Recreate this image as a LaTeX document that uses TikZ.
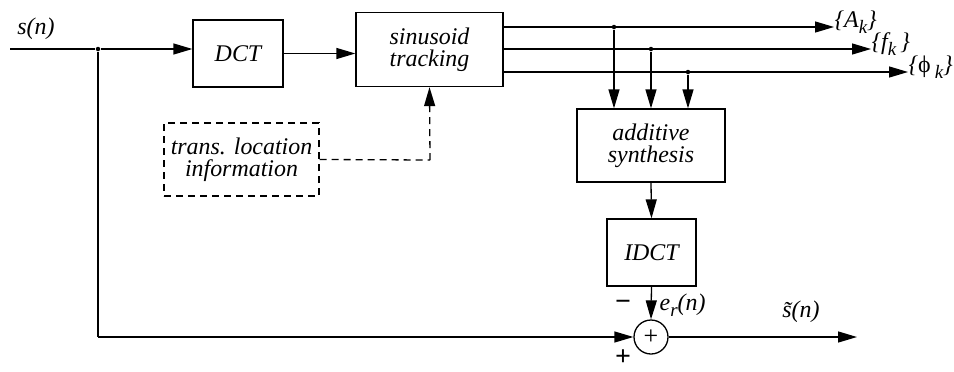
\documentclass[tikz,border=0pt]{standalone}
\usepackage{fontspec}
\setmainfont{Liberation Serif}
\usetikzlibrary{arrows.meta}
\newcommand{\sub}[1]{\raisebox{-0.5ex}{\fontsize{19}{19}\selectfont #1}}
\begin{document}
\begin{tikzpicture}[x=1bp,y=-1bp,
  font=\fontsize{24}{25}\selectfont\itshape,
  line width=1.3bp,
  tip/.style={-{Triangle[length=19bp,width=11bp]}},
  blockbox/.style={draw,rectangle,inner sep=0pt,align=center},
  dotpt/.style={circle,fill,inner sep=0pt,minimum size=4.5bp}]
\useasboundingbox (0,0) rectangle (954,371);

% blocks
\node[blockbox,minimum width=90bp,minimum height=67bp] (dct) at (238,53.5) {DCT};
\node[blockbox,minimum width=147bp,minimum height=74bp] (trk) at (429.5,49.5) {sinusoid\\[-3bp]tracking};
\node[blockbox,minimum width=148bp,minimum height=73bp] (syn) at (651,145.5) {additive\\[-3bp]synthesis};
\node[blockbox,minimum width=89bp,minimum height=67bp] (idct) at (651.5,252.5) {IDCT};
\node[blockbox,dashed,dash pattern=on 7bp off 5bp,minimum width=155bp,minimum height=73bp] (loc) at (241.5,159.5) {trans. location\\[-3bp]information};
\node[draw,circle,minimum size=34bp,inner sep=0pt] (sum) at (651,337) {};
\node[font=\fontsize{26}{26}\selectfont\upshape] at (651,337.5) {+};

% input
\coordinate (in) at (10,49);
\node[dotpt] (split) at (98,49) {};
\node[anchor=south] (sn) at (36,44) {s(n)};
\draw (in) -- (split);
\draw[tip] (split) -- (split -| dct.west);
\draw[tip] (dct.east) -- (dct.east -| trk.west);

% tracker outputs
\coordinate (oa) at (503,27);
\coordinate (of) at (503,49);
\coordinate (op) at (503,72);
\coordinate (ea) at (834,27);
\coordinate (ef) at (871,49);
\coordinate (ep) at (908,72);
\draw[tip] (oa) -- (ea);
\draw[tip] (of) -- (ef);
\draw[tip] (op) -- (ep);
\node[anchor=west,inner sep=0pt] (la) at (834,22) {\{A\sub{k}\}};
\node[anchor=west,inner sep=0pt] (lf) at (871,44) {\{f\sub{k}\,\}};
\node[anchor=west,inner sep=0pt] (lp) at (908,67) {\{\upshape ϕ\itshape\,\sub{k}\}};

\node[dotpt] (da) at (614,27) {};
\node[dotpt] (df) at (651,49) {};
\node[dotpt] (dp) at (688,72) {};
\draw[tip] (da) -- (da |- syn.north);
\draw[tip] (df) -- (df |- syn.north);
\draw[tip] (dp) -- (dp |- syn.north);

% synthesis chain
\draw[tip] (syn.south) -- (idct.north);
\draw[tip] (idct.south) -- (sum.north);

% transient location side information
\coordinate (bend) at (430,160);
\draw[dashed,dash pattern=on 7bp off 5bp] (loc.east) -- (bend);
\draw[tip,dashed,dash pattern=on 7bp off 5bp] (bend) -- (trk.south);

% residual path
\coordinate (low) at (98,337);
\draw (split) -- (low);
\draw[tip] (low) -- (sum.west);
\coordinate (out) at (857,337);
\draw[tip] (sum.east) -- (out);

% labels at the adder
\node[font=\fontsize{28}{28}\selectfont\bfseries\upshape] (minus) at (623,305) {−};
\node[font=\fontsize{28}{28}\selectfont\bfseries\upshape] (plus) at (623,358) {+};
\node[anchor=west,inner sep=0pt] (er) at (659,305) {e\sub{r}(n)};
\node (st) at (801,312) {\~s(n)};
\end{tikzpicture}
\end{document}
